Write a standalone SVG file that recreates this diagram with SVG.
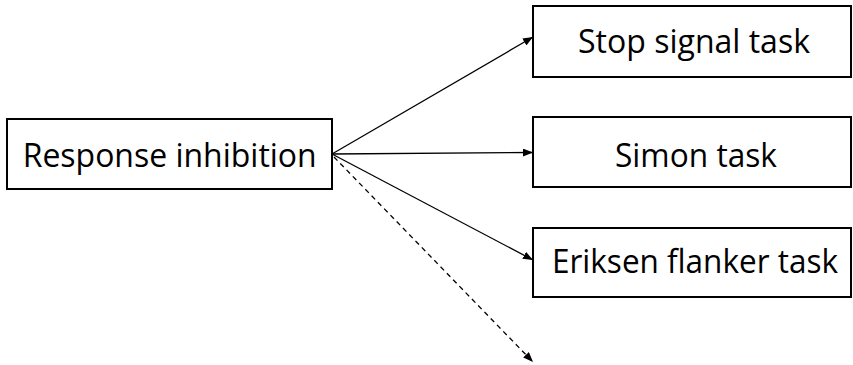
<svg xmlns="http://www.w3.org/2000/svg" width="853" height="365" viewBox="0 0 853 365">
<style>
.box{fill:#fff;stroke:#000;stroke-width:2}
.lbl{font-family:"Open Sans","Liberation Sans",sans-serif;font-size:32px;fill:#000;text-anchor:middle}
.edge{stroke:#000;stroke-width:1.3;fill:none}
.dash{stroke-dasharray:5 4}
</style>
<defs>
<marker id="ah" viewBox="0 0 10 8" refX="10" refY="4" markerWidth="10" markerHeight="8" markerUnits="userSpaceOnUse" orient="auto">
<path d="M0,0 L10,4 L0,8 Z" fill="#000"/>
</marker>
</defs>
<rect width="853" height="365" fill="#fff"/>
<g id="connectors">
<line class="edge" x1="332" y1="154" x2="533" y2="37" marker-end="url(#ah)"/>
<line class="edge" x1="332" y1="154" x2="533" y2="152.5" marker-end="url(#ah)"/>
<line class="edge" x1="332" y1="154" x2="533" y2="260" marker-end="url(#ah)"/>
<line class="edge dash" x1="334" y1="157" x2="533" y2="362" marker-end="url(#ah)"/>
</g>
<g id="response-inhibition">
<rect class="box" x="7" y="119" width="325" height="70"/>
<text class="lbl" x="169.7" y="167" textLength="294" lengthAdjust="spacingAndGlyphs">Response inhibition</text>
</g>
<g id="stop-signal-task">
<rect class="box" x="533" y="6" width="318" height="71"/>
<text class="lbl" x="694" y="53" textLength="232" lengthAdjust="spacingAndGlyphs">Stop signal task</text>
</g>
<g id="simon-task">
<rect class="box" x="533" y="117" width="318" height="70"/>
<text class="lbl" x="696" y="167" textLength="162" lengthAdjust="spacingAndGlyphs">Simon task</text>
</g>
<g id="eriksen-flanker-task">
<rect class="box" x="533" y="228" width="318" height="69"/>
<text class="lbl" x="695" y="273" textLength="286" lengthAdjust="spacingAndGlyphs">Eriksen flanker task</text>
</g>
</svg>
